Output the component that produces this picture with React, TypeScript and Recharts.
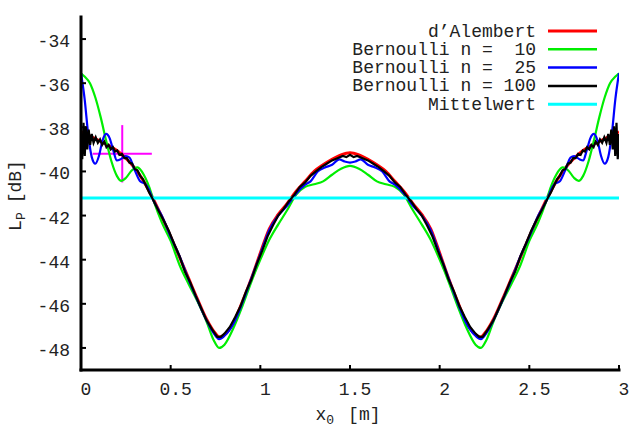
import React from "react";
import {
  ComposedChart,
  Line,
  XAxis,
  YAxis,
  Scatter,
  ErrorBar,
  ReferenceLine,
  Legend,
} from "recharts";

const X_TICKS = [0, 0.5, 1, 1.5, 2, 2.5, 3];
const Y_TICKS = [-48, -46, -44, -42, -40, -38, -36, -34];
const MITTELWERT = -41.2;

// d'Alembert solution
const dAlembert: [number, number][] = [
  [0, -38.2], [0.05, -38.4], [0.1, -38.6], [0.15, -38.8], [0.2, -39.05], [0.25, -39.4],
  [0.3, -39.85], [0.35, -40.45], [0.4, -41.2], [0.45, -42.05], [0.5, -42.95], [0.55, -43.9],
  [0.6, -44.85], [0.65, -45.8], [0.7, -46.7], [0.75, -47.35], [0.77, -47.5], [0.8, -47.4],
  [0.85, -46.85], [0.9, -45.9], [0.95, -44.85], [1.0, -43.7], [1.05, -42.6], [1.1, -41.95],
  [1.15, -41.45], [1.2, -40.9], [1.25, -40.45], [1.3, -40.0], [1.35, -39.7], [1.4, -39.45],
  [1.45, -39.25], [1.5, -39.15], [1.55, -39.25], [1.6, -39.45], [1.65, -39.7], [1.7, -40.0],
  [1.75, -40.45], [1.8, -40.9], [1.85, -41.45], [1.9, -41.95], [1.95, -42.6], [2.0, -43.7],
  [2.05, -44.85], [2.1, -45.9], [2.15, -46.85], [2.2, -47.4], [2.23, -47.5], [2.25, -47.35],
  [2.3, -46.7], [2.35, -45.8], [2.4, -44.85], [2.45, -43.9], [2.5, -42.95], [2.55, -42.05],
  [2.6, -41.2], [2.65, -40.45], [2.7, -39.85], [2.75, -39.4], [2.8, -39.05], [2.85, -38.8],
  [2.9, -38.6], [2.95, -38.4], [3.0, -38.2],
];

// Bernoulli, n = 10
const bernoulli10: [number, number][] = [
  [0, -35.55], [0.02, -35.7], [0.05, -36.0], [0.08, -36.65], [0.11, -37.55], [0.14, -38.6],
  [0.17, -39.55], [0.2, -40.2], [0.225, -40.43], [0.25, -40.3], [0.28, -39.98], [0.315, -39.82],
  [0.35, -40.15], [0.38, -40.7], [0.41, -41.45], [0.45, -42.3], [0.5, -43.15], [0.55, -44.25],
  [0.6, -45.1], [0.65, -45.9], [0.7, -46.8], [0.74, -47.65], [0.77, -48.0], [0.8, -47.85],
  [0.85, -47.1], [0.9, -46.1], [0.95, -45.0], [1.0, -44.0], [1.05, -43.1], [1.1, -42.4],
  [1.15, -41.75], [1.2, -41.05], [1.25, -40.7], [1.3, -40.58], [1.35, -40.45], [1.4, -40.15],
  [1.45, -39.88], [1.5, -39.75], [1.55, -39.88], [1.6, -40.15], [1.65, -40.45], [1.7, -40.58],
  [1.75, -40.7], [1.8, -41.05], [1.85, -41.75], [1.9, -42.4], [1.95, -43.1], [2.0, -44.0],
  [2.05, -45.0], [2.1, -46.1], [2.15, -47.1], [2.2, -47.85], [2.23, -48.0], [2.26, -47.65],
  [2.3, -46.8], [2.35, -45.9], [2.4, -45.1], [2.45, -44.25], [2.5, -43.15], [2.55, -42.3],
  [2.59, -41.45], [2.62, -40.7], [2.65, -40.15], [2.685, -39.82], [2.72, -39.98], [2.75, -40.3],
  [2.775, -40.43], [2.8, -40.2], [2.83, -39.55], [2.86, -38.6], [2.89, -37.55], [2.92, -36.65],
  [2.95, -36.0], [2.98, -35.7], [3.0, -35.55],
];

// Bernoulli, n = 25
const bernoulli25: [number, number][] = [
  [0, -35.55], [0.02, -36.7], [0.04, -38.3], [0.06, -39.35], [0.08, -39.65], [0.1, -39.3],
  [0.12, -38.6], [0.14, -38.3], [0.16, -38.5], [0.18, -39.05], [0.2, -39.5], [0.22, -39.45],
  [0.25, -39.3], [0.27, -39.37], [0.3, -39.95], [0.33, -40.45], [0.36, -40.58], [0.38, -40.85],
  [0.4, -41.25], [0.45, -42.0], [0.5, -42.95], [0.55, -43.85], [0.6, -44.9], [0.65, -45.85],
  [0.7, -46.75], [0.75, -47.45], [0.77, -47.6], [0.8, -47.45], [0.85, -46.9], [0.9, -45.95],
  [0.95, -44.85], [1.0, -43.75], [1.05, -42.65], [1.1, -42.0], [1.15, -41.55], [1.2, -41.0],
  [1.25, -40.6], [1.28, -40.45], [1.32, -40.0], [1.36, -39.82], [1.4, -39.7], [1.44, -39.45],
  [1.47, -39.55], [1.5, -39.6], [1.53, -39.55], [1.56, -39.45], [1.6, -39.7], [1.64, -39.82],
  [1.68, -40.0], [1.72, -40.45], [1.75, -40.6], [1.8, -41.0], [1.85, -41.55], [1.9, -42.0],
  [1.95, -42.65], [2.0, -43.75], [2.05, -44.85], [2.1, -45.95], [2.15, -46.9], [2.2, -47.45],
  [2.23, -47.6], [2.25, -47.45], [2.3, -46.75], [2.35, -45.85], [2.4, -44.9], [2.45, -43.85],
  [2.5, -42.95], [2.55, -42.0], [2.6, -41.25], [2.62, -40.85], [2.64, -40.58], [2.67, -40.45],
  [2.7, -39.95], [2.73, -39.37], [2.75, -39.3], [2.78, -39.45], [2.8, -39.5], [2.82, -39.05],
  [2.84, -38.5], [2.86, -38.3], [2.88, -38.6], [2.9, -39.3], [2.92, -39.65], [2.94, -39.35],
  [2.96, -38.3], [2.98, -36.7], [3.0, -35.55],
];

// Bernoulli, n = 100
const bernoulli100: [number, number][] = [
  [0, -38.3], [0.007, -39.45], [0.014, -37.8], [0.021, -39.3], [0.028, -37.95], [0.035, -39.0],
  [0.043, -38.1], [0.051, -38.8], [0.06, -38.3], [0.07, -38.7], [0.082, -38.45], [0.094, -38.7],
  [0.106, -38.55], [0.118, -38.8], [0.13, -38.65], [0.142, -38.9], [0.154, -38.8], [0.166, -39.0],
  [0.178, -38.9], [0.19, -39.1], [0.202, -39.05], [0.214, -39.25], [0.228, -39.2], [0.242, -39.4],
  [0.256, -39.4], [0.27, -39.6], [0.285, -39.65], [0.3, -39.9], [0.315, -39.95], [0.33, -40.2],
  [0.345, -40.35], [0.36, -40.6], [0.38, -40.95], [0.4, -41.25], [0.43, -41.75], [0.46, -42.2],
  [0.49, -42.7], [0.52, -43.3], [0.55, -43.85], [0.58, -44.55], [0.61, -45.05], [0.64, -45.65],
  [0.67, -46.2], [0.7, -46.75], [0.73, -47.15], [0.76, -47.5], [0.78, -47.5], [0.8, -47.35],
  [0.83, -47.05], [0.86, -46.6], [0.89, -46.1], [0.92, -45.45], [0.95, -44.9], [0.98, -44.2],
  [1.01, -43.6], [1.04, -42.95], [1.07, -42.45], [1.1, -42.0], [1.13, -41.7], [1.16, -41.35],
  [1.19, -41.05], [1.22, -40.7], [1.25, -40.5], [1.28, -40.2], [1.31, -40.0], [1.34, -39.8],
  [1.37, -39.65], [1.4, -39.5], [1.43, -39.4], [1.46, -39.3], [1.48, -39.35], [1.5, -39.25],
  [1.52, -39.35], [1.54, -39.3], [1.57, -39.4], [1.6, -39.5], [1.63, -39.65], [1.66, -39.8],
  [1.69, -40.0], [1.72, -40.2], [1.75, -40.5], [1.78, -40.7], [1.81, -41.05], [1.84, -41.35],
  [1.87, -41.7], [1.9, -42.0], [1.93, -42.45], [1.96, -42.95], [1.99, -43.6], [2.02, -44.2],
  [2.05, -44.9], [2.08, -45.45], [2.11, -46.1], [2.14, -46.6], [2.17, -47.05], [2.2, -47.35],
  [2.22, -47.5], [2.24, -47.5], [2.27, -47.15], [2.3, -46.75], [2.33, -46.2], [2.36, -45.65],
  [2.39, -45.05], [2.42, -44.55], [2.45, -43.85], [2.48, -43.3], [2.51, -42.7], [2.54, -42.2],
  [2.57, -41.75], [2.6, -41.25], [2.62, -40.95], [2.64, -40.6], [2.655, -40.35], [2.67, -40.2],
  [2.685, -39.95], [2.7, -39.9], [2.715, -39.65], [2.73, -39.6], [2.744, -39.4], [2.758, -39.4],
  [2.772, -39.2], [2.786, -39.25], [2.798, -39.05], [2.81, -39.1], [2.822, -38.9], [2.834, -39.0],
  [2.846, -38.8], [2.858, -38.9], [2.87, -38.65], [2.882, -38.8], [2.894, -38.55], [2.906, -38.7],
  [2.918, -38.45], [2.93, -38.7], [2.94, -38.3], [2.949, -38.8], [2.957, -38.1], [2.965, -39.0],
  [2.972, -37.95], [2.979, -39.3], [2.986, -37.8], [2.993, -39.45], [3.0, -38.3],
];

// magenta cross marker (x, y, x-half-width, y-half-height)
const marker = [{ x: 0.23, y: -39.2, ex: 0.165, ey: 1.3 }];

const legendItems = [
  { name: "d’Alembert", color: "#ff0000", width: 3 },
  { name: "Bernoulli n =  10", color: "#00ee00", width: 2.5 },
  { name: "Bernoulli n =  25", color: "#0000ff", width: 2.5 },
  { name: "Bernoulli n = 100", color: "#000000", width: 2.5 },
  { name: "Mittelwert", color: "#00ffff", width: 3 },
];

const toRows = (pts: [number, number][]) => pts.map(([x, y]) => ({ x, y }));

const FONT = "'Liberation Mono', 'Courier New', monospace";
const txt = { fontFamily: FONT, fontSize: 18, fill: "#222" };

const BottomTick = ({ x, y, payload }: any) => (
  <g>
    <line x1={x} y1={y} x2={x} y2={y - 5} stroke="#000" strokeWidth={2} />
    <text x={x + 5} y={y + 25} textAnchor="middle" style={txt}>
      {payload.value}
    </text>
  </g>
);

const TopTick = ({ x, y }: any) => (
  <line x1={x} y1={y} x2={x} y2={y + 5} stroke="#000" strokeWidth={2} />
);

const LeftTick = ({ x, y, payload }: any) => (
  <g>
    <line x1={x} y1={y} x2={x + 5} y2={y} stroke="#000" strokeWidth={2} />
    <text x={x - 11} y={y + 8} textAnchor="end" style={txt}>
      {payload.value}
    </text>
  </g>
);

const RightTick = ({ x, y }: any) => (
  <line x1={x} y1={y} x2={x - 5} y2={y} stroke="#000" strokeWidth={2} />
);

const renderXLabel = ({ viewBox }: any) => {
  const cx = viewBox.x + viewBox.width / 2 - 2;
  return (
    <text x={cx} y={viewBox.y + 50} textAnchor="middle" style={txt}>
      x
      <tspan fontSize={13} dy={3.5}>0</tspan>
      <tspan dy={-3.5} dx={14}>[m]</tspan>
    </text>
  );
};

const renderYLabel = ({ viewBox }: any) => {
  const cy = viewBox.y + viewBox.height / 2 + 2;
  const x = 21;
  return (
    <text x={x} y={cy} transform={`rotate(-90 ${x} ${cy})`} textAnchor="middle" style={txt}>
      L
      <tspan fontSize={13} dy={4}>P</tspan>
      <tspan dy={-4} dx={9}>[dB]</tspan>
    </text>
  );
};

const renderLegend = () => (
  <svg width={290} height={100}>
    {legendItems.map((item, i) => {
      const cy = 14 + i * 18.3;
      return (
        <g key={item.name}>
          <text x={206} y={cy + 5.5} textAnchor="end" style={{ ...txt, whiteSpace: "pre" }}>
            {item.name}
          </text>
          <line x1={218} y1={cy} x2={267} y2={cy} stroke={item.color} strokeWidth={item.width} />
        </g>
      );
    })}
  </svg>
);

const axisLine = { stroke: "#000", strokeWidth: 3, strokeLinecap: "square" as const };

export default function App() {
  return (
    <div style={{ position: "absolute", left: 0, top: 0, background: "#fff" }}>
      <ComposedChart width={629} height={426} margin={{ top: 17, right: 10, left: 0, bottom: 0 }}>
        <XAxis
          type="number"
          dataKey="x"
          domain={[0, 3]}
          ticks={X_TICKS}
          allowDataOverflow
          height={56}
          tickSize={0}
          tickMargin={0}
          tickLine={false}
          axisLine={axisLine}
          tick={<BottomTick />}
          interval={0}
          label={renderXLabel}
        />
        <XAxis
          xAxisId="top"
          orientation="top"
          type="number"
          dataKey="x"
          domain={[0, 3]}
          ticks={X_TICKS}
          allowDataOverflow
          height={0}
          tickSize={0}
          tickMargin={0}
          tickLine={false}
          axisLine={axisLine}
          tick={<TopTick />}
          interval={0}
        />
        <YAxis
          type="number"
          dataKey="y"
          domain={[-49, -33]}
          ticks={Y_TICKS}
          allowDataOverflow
          width={81}
          tickSize={0}
          tickMargin={0}
          tickLine={false}
          axisLine={axisLine}
          tick={<LeftTick />}
          interval={0}
          label={renderYLabel}
        />
        <YAxis
          yAxisId="right"
          orientation="right"
          type="number"
          dataKey="y"
          domain={[-49, -33]}
          ticks={Y_TICKS}
          allowDataOverflow
          width={0}
          tickSize={0}
          tickMargin={0}
          tickLine={false}
          axisLine={axisLine}
          tick={<RightTick />}
          interval={0}
        />
        <Scatter data={marker} dataKey="y" shape={() => <g />} isAnimationActive={false}>
          <ErrorBar dataKey="ex" direction="x" width={0} stroke="#ff00ff" strokeWidth={2} />
          <ErrorBar dataKey="ey" direction="y" width={0} stroke="#ff00ff" strokeWidth={2} />
        </Scatter>
        <Line data={toRows(dAlembert)} dataKey="y" type="monotone" stroke="#ff0000" strokeWidth={3} dot={false} activeDot={false} isAnimationActive={false} />
        <Line data={toRows(bernoulli10)} dataKey="y" type="monotone" stroke="#00ee00" strokeWidth={2.2} dot={false} activeDot={false} isAnimationActive={false} />
        <Line data={toRows(bernoulli25)} dataKey="y" type="monotone" stroke="#0000ff" strokeWidth={2.2} dot={false} activeDot={false} isAnimationActive={false} />
        <ReferenceLine y={MITTELWERT} stroke="#00ffff" strokeWidth={3} />
        <Line data={toRows(bernoulli100)} dataKey="y" type="linear" stroke="#000000" strokeWidth={2.2} dot={false} activeDot={false} isAnimationActive={false} />
        <Legend
          layout="vertical"
          verticalAlign="middle"
          align="center"
          content={renderLegend}
          wrapperStyle={{ left: 330, top: 17, width: 290, height: 100 }}
        />
      </ComposedChart>
    </div>
  );
}
